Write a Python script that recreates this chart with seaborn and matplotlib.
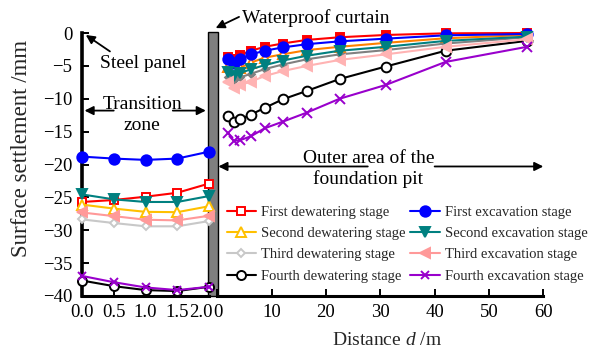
import matplotlib
matplotlib.use("Agg")
import matplotlib.pyplot as plt
from matplotlib.patches import Rectangle
from matplotlib.transforms import ScaledTranslation
import pandas as pd
import seaborn as sns

# ---- Transition zone: between the steel panel (d = 0) and the waterproof curtain (d = 2 m)
zone_d = [0.0, 0.5, 1.0, 1.5, 2.0]
zone_dew1 = [-25.7, -25.4, -24.9, -24.3, -22.9]
zone_dew2 = [-26.1, -26.7, -27.2, -27.25, -26.35]
zone_dew3 = [-28.35, -28.9, -29.4, -29.4, -28.6]
zone_dew4 = [-37.65, -38.5, -39.1, -39.25, -38.6]
zone_exc1 = [-18.8, -19.1, -19.3, -19.1, -18.05]
zone_exc2 = [-24.55, -25.3, -25.7, -25.7, -24.8]
zone_exc3 = [-27.3, -27.85, -28.4, -28.5, -27.8]
zone_exc4 = [-36.95, -37.9, -38.7, -39.1, -38.6]

# ---- Outer area of the foundation pit (distance from the waterproof curtain, m)
outer_d = [2.0, 3.0, 4.2, 6.2, 8.7, 12.0, 16.5, 22.5, 31.0, 42.0, 57.0]
outer_dew1 = [-3.6, -3.9, -3.3, -2.7, -2.1, -1.6, -1.05, -0.65, -0.3, -0.05, 0.0]
outer_exc1 = [-4.0, -4.5, -3.95, -3.25, -2.7, -2.2, -1.7, -1.27, -0.86, -0.35, -0.15]
outer_dew2 = [-5.2, -5.7, -5.3, -4.5, -3.75, -3.25, -2.6, -2.1, -1.5, -0.8, -0.3]
outer_exc2 = [-5.9, -6.6, -6.1, -5.5, -4.9, -4.2, -3.45, -2.7, -2.1, -1.2, -0.55]
outer_dew3 = [-6.7, -7.15, -6.75, -6.2, -5.5, -4.8, -4.0, -3.25, -2.6, -1.6, -0.65]
outer_exc3 = [-7.4, -8.3, -7.9, -7.4, -6.55, -5.8, -5.0, -4.1, -3.25, -2.1, -0.95]
outer_dew4 = [-12.6, -13.5, -13.1, -12.4, -11.4, -10.1, -8.8, -7.0, -5.1, -2.7, -1.2]
outer_exc4 = [-15.2, -16.4, -16.3, -15.7, -14.5, -13.5, -12.1, -10.0, -7.9, -4.4, -2.1]

stage_names = ["First dewatering stage", "Second dewatering stage",
               "Third dewatering stage", "Fourth dewatering stage",
               "First excavation stage", "Second excavation stage",
               "Third excavation stage", "Fourth excavation stage"]

x_ticks_zone = [0.0, 0.5, 1.0, 1.5, 2.0]
x_ticks_outer = [0, 10, 20, 30, 40, 50, 60]
y_ticks = [0, -5, -10, -15, -20, -25, -30, -35, -40]

sns.set_style("ticks")
plt.rcParams["font.family"] = ["Liberation Serif", "DejaVu Serif"]
plt.rcParams["mathtext.fontset"] = "custom"
plt.rcParams["mathtext.rm"] = "Liberation Serif"
plt.rcParams["mathtext.it"] = "Liberation Serif:italic"

W, H = 592, 352
fig = plt.figure(figsize=(W / 100, H / 100), dpi=100)

def fx(px):
    return px / W

def fy(py):
    return (H - py) / H

y_top, y_bot = 33, 296
ax_l = fig.add_axes([fx(82), fy(y_bot), fx(209) - fx(82), fy(y_top) - fy(y_bot)])
ax_r = fig.add_axes([fx(217.3), fy(y_bot), fx(543.3) - fx(217.3), fy(y_top) - fy(y_bot)])

# style per series: (color, marker, markersize, facecolor)
zone_style = [
    ("#FF0000", "s", 5.5, "white"),
    ("#FFC000", "^", 6.5, "white"),
    ("#C8C8C8", "D", 4.5, "white"),
    ("#000000", "o", 6.5, "white"),
    ("#0000FF", "o", 7.5, "#0000FF"),
    ("#008080", "v", 7.5, "#008080"),
    ("#FF9999", "<", 7.5, "#FF9999"),
    ("#9900CC", "x", 6.0, "#9900CC"),
]
outer_style = [
    ("#FF0000", "s", 6.0, "#FF0000"),
    ("#FF8000", "^", 6.5, "white"),
    ("#808080", "D", 3.5, "#808080"),
    ("#000000", "o", 7.0, "white"),
    ("#0000FF", "o", 7.5, "#0000FF"),
    ("#008080", "v", 7.5, "#008080"),
    ("#FFB3B3", "<", 7.5, "#FFB3B3"),
    ("#9900CC", "x", 6.5, "#9900CC"),
]

zone_series = [zone_dew1, zone_dew2, zone_dew3, zone_dew4,
               zone_exc1, zone_exc2, zone_exc3, zone_exc4]
outer_series = [outer_dew1, outer_dew2, outer_dew3, outer_dew4,
                outer_exc1, outer_exc2, outer_exc3, outer_exc4]

# draw back to front so the upper curves stay visible
draw_order = [7, 3, 6, 2, 5, 1, 4, 0]

for i in draw_order:
    c, m, ms, fc = zone_style[i]
    df = pd.DataFrame({"d": zone_d, "s": zone_series[i]})
    sns.lineplot(data=df, x="d", y="s", ax=ax_l, color=c, marker=m, markersize=ms,
                 markerfacecolor=fc, markeredgecolor=c, markeredgewidth=1.4,
                 linewidth=1.5, label=stage_names[i], legend=False, clip_on=False,
                 zorder=3 + i * 0.1)
    c, m, ms, fc = outer_style[i]
    df = pd.DataFrame({"d": outer_d, "s": outer_series[i]})
    sns.lineplot(data=df, x="d", y="s", ax=ax_r, color=c, marker=m, markersize=ms,
                 markerfacecolor=fc, markeredgecolor=c, markeredgewidth=1.4,
                 linewidth=1.5, legend=False, clip_on=False, zorder=3 + i * 0.1)

for ax in (ax_l, ax_r):
    ax.set_ylim(-40, 0)
    ax.set_xlabel("")
    ax.set_ylabel("")
    ax.set_facecolor("none")
    for s in ("top", "right"):
        ax.spines[s].set_visible(False)
    ax.spines["bottom"].set_linewidth(2.2)
    ax.spines["bottom"].set_color("black")
    ax.tick_params(direction="in", length=5, width=1.4, labelsize=13.5, pad=6, colors="black")

ax_l.set_xlim(0, 2.0)
ax_l.set_xticks(x_ticks_zone)
ax_l.set_xticklabels([f"{v:.1f}" for v in x_ticks_zone])
ax_l.set_yticks(y_ticks)
ax_l.spines["left"].set_linewidth(2.6)
ax_l.spines["left"].set_color("black")
ax_l.tick_params(axis="y", pad=7)

ax_r.set_xlim(0, 60)
ax_r.set_xticks(x_ticks_outer)
ax_r.set_xticklabels([str(v) for v in x_ticks_outer])
ax_r.spines["left"].set_visible(False)
ax_r.tick_params(axis="y", left=False, labelleft=False)

# the "2.0" and "0" labels sit on either side of the curtain
lbl_end = ax_l.get_xticklabels()[-1]
lbl_end.set_transform(lbl_end.get_transform()
                      + ScaledTranslation(-8.5 / 100, 0, fig.dpi_scale_trans))
lbl_start = ax_r.get_xticklabels()[0]
lbl_start.set_transform(lbl_start.get_transform()
                        + ScaledTranslation(0.5 / 100, 0, fig.dpi_scale_trans))

# waterproof curtain
curtain = Rectangle((fx(207.5), fy(296)), fx(217.5) - fx(207.5), fy(32) - fy(296),
                    transform=fig.transFigure, facecolor="#7F7F7F", edgecolor="black",
                    linewidth=1.0, zorder=1.5, clip_on=False)
ax_l.add_patch(curtain)

arrow = dict(arrowstyle="-|>", color="black", lw=1.3, mutation_scale=13,
             shrinkA=0, shrinkB=0)
txt = dict(fontsize=14, color="black")

# annotations in the transition zone
ax_l.annotate("", xy=(0.06, -0.3), xytext=(0.44, -2.8), arrowprops=arrow,
              annotation_clip=False)
ax_l.text(0.29, -5.3, "Steel panel", ha="left", va="baseline", **txt)
ax_l.annotate("", xy=(0.04, -11.8), xytext=(0.50, -11.8), arrowprops=arrow)
ax_l.annotate("", xy=(1.95, -11.8), xytext=(1.43, -11.8), arrowprops=arrow)
ax_l.text(0.95, -11.55, "Transition", ha="center", va="baseline", **txt)
ax_l.text(0.95, -14.75, "zone", ha="center", va="baseline", **txt)

# annotations in the outer area
ax_r.annotate("", xy=(-0.3, 0.75), xytext=(4.0, 2.45), arrowprops=arrow,
              annotation_clip=False)
ax_r.text(4.6, 1.5, "Waterproof curtain", ha="left", va="baseline", **txt)
ax_r.annotate("", xy=(0.2, -20.3), xytext=(27.7, -20.3), arrowprops=arrow)
ax_r.annotate("", xy=(60.0, -20.3), xytext=(40.0, -20.3), arrowprops=arrow)
ax_r.text(27.8, -19.7, "Outer area of the", ha="center", va="baseline", **txt)
ax_r.text(27.8, -22.95, "foundation pit", ha="center", va="baseline", **txt)

# legend built from the transition-zone lines
handles = {ln.get_label(): ln for ln in ax_l.get_lines()}
leg = ax_r.legend([handles[n] for n in stage_names], stage_names, ncol=2,
                  loc="upper left", bbox_to_anchor=(fx(226.5), fy(205.5)),
                  bbox_transform=fig.transFigure, frameon=False, fontsize=10.5,
                  borderpad=0, borderaxespad=0, handlelength=2.0, handletextpad=0.35,
                  columnspacing=0.35, labelspacing=0.56)
leg.set_zorder(10)

fig.text(fx(387.5), fy(345), "Distance $d$ /m", ha="center", va="baseline", fontsize=14)
fig.text(fx(22), fy(148), "Surface settlement /mm", ha="center", va="center",
         rotation=90, fontsize=16.5)

fig.savefig("out.png", dpi=100)
